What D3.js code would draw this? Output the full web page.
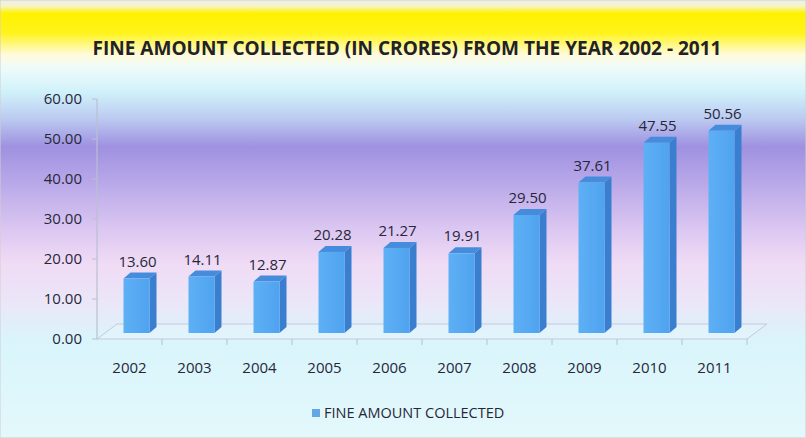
<!DOCTYPE html>
<html>
<head>
<meta charset="utf-8">
<script src="https://cdn.jsdelivr.net/npm/d3@7"></script>
<style>
  html, body { margin: 0; padding: 0; background: #fff; }
  svg { display: block; }
  text { font-family: "Open Sans", "Noto Sans", sans-serif; fill: #27273a; }
</style>
</head>
<body>
<svg id="chart" width="806" height="438"></svg>
<script>
const years = ['2002', '2003', '2004', '2005', '2006', '2007', '2008', '2009', '2010', '2011'];
const fineAmount = [13.60, 14.11, 12.87, 20.28, 21.27, 19.91, 29.50, 37.61, 47.55, 50.56];
const yTicks = [0, 10, 20, 30, 40, 50, 60];
const title = 'FINE AMOUNT COLLECTED (IN CRORES) FROM THE YEAR 2002 - 2011';
const legendLabel = 'FINE AMOUNT COLLECTED';

const W = 806, H = 438;
const svg = d3.select('#chart');
const defs = svg.append('defs');

// background bands, top to bottom
const bg = defs.append('linearGradient').attr('id', 'bg')
  .attr('x1', 0).attr('y1', 0).attr('x2', 0).attr('y2', 1);
[
  [0, '#efefe8'], [0.014, '#f6f4c8'], [0.03, '#fff200'], [0.075, '#fff31a'],
  [0.125, '#fffbdc'], [0.155, '#eefbfb'], [0.21, '#d0f1fa'], [0.27, '#bccbf1'],
  [0.335, '#9f91e0'], [0.40, '#b3a3e7'], [0.52, '#dac6f1'], [0.60, '#f0dbf5'],
  [0.69, '#ebe6f8'], [0.78, '#d9f5fb'], [1, '#e3f8fb']
].forEach(([o, c]) => bg.append('stop').attr('offset', o).attr('stop-color', c));

// front face of the bars: a little lighter on the left
const front = defs.append('linearGradient').attr('id', 'front')
  .attr('x1', 0).attr('y1', 0).attr('x2', 1).attr('y2', 0);
front.append('stop').attr('offset', 0).attr('stop-color', '#5eb0f5');
front.append('stop').attr('offset', 1).attr('stop-color', '#4fa3ef');

svg.append('rect').attr('width', W).attr('height', H).attr('fill', 'url(#bg)')
  .attr('stroke', '#cfcfcf').attr('stroke-width', 1);

// title
svg.append('text')
  .attr('x', 407).attr('y', 55)
  .attr('text-anchor', 'middle')
  .attr('font-weight', 'bold')
  .attr('font-size', 19)
  .attr('textLength', 629)
  .attr('lengthAdjust', 'spacingAndGlyphs')
  .style('fill', '#222226')
  .text(title);

// scales
const x = d3.scaleBand().domain(years).range([97, 747]);
const y = d3.scaleLinear().domain([0, 60]).range([339, 99]);

const depth = { dx: 20, dy: -15 };   // floor depth
const barOff = { dx: 7, dy: -6 };    // where the bar front sits on the floor
const barDepth = { dx: 7, dy: -6 };  // bar thickness
const barW = 26;

// floor
const fl = x.range();
svg.append('path')
  .attr('d', `M${fl[0]},${y(0)} L${fl[0] + depth.dx},${y(0) + depth.dy} L${fl[1] + depth.dx},${y(0) + depth.dy} L${fl[1]},${y(0)} Z`)
  .attr('fill', 'rgba(235,245,252,0.35)')
  .attr('stroke', '#c3cadb').attr('stroke-width', 1);

// y axis
svg.append('line')
  .attr('x1', fl[0]).attr('x2', fl[0]).attr('y1', y(60)).attr('y2', y(0))
  .attr('stroke', '#b9c0d2').attr('stroke-width', 1.2);

const yAxis = svg.append('g');
yAxis.selectAll('line').data(yTicks).join('line')
  .attr('x1', fl[0] - 5).attr('x2', fl[0])
  .attr('y1', (d) => y(d)).attr('y2', (d) => y(d))
  .attr('stroke', '#b9c0d2');
yAxis.selectAll('text').data(yTicks).join('text')
  .attr('x', 82).attr('y', (d) => y(d))
  .attr('dy', '0.36em')
  .attr('text-anchor', 'end')
  .attr('font-size', 15)
  .text((d) => d3.format('.2f')(d));

// x axis ticks + labels
const xAxis = svg.append('g');
xAxis.selectAll('line').data(years).join('line')
  .attr('x1', (d) => x(d) + x.bandwidth())
  .attr('x2', (d) => x(d) + x.bandwidth())
  .attr('y1', y(0)).attr('y2', y(0) + 6)
  .attr('stroke', '#b9c0d2');
xAxis.selectAll('text').data(years).join('text')
  .attr('x', (d) => x(d) + x.bandwidth() / 2)
  .attr('y', 373)
  .attr('text-anchor', 'middle')
  .attr('font-size', 15)
  .text((d) => d);

// bars
const bars = svg.append('g').selectAll('g')
  .data(years.map((yr, i) => ({ yr, v: fineAmount[i] })))
  .join('g');

const fx = (d) => x(d.yr) + x.bandwidth() / 2 - barW / 2 + barOff.dx;
const base = y(0) + barOff.dy;
const barTop = (d) => y(d.v) + barOff.dy;

bars.append('path') // side
  .attr('d', (d) => {
    const x0 = fx(d) + barW;
    return `M${x0},${base} L${x0 + barDepth.dx},${base + barDepth.dy} L${x0 + barDepth.dx},${barTop(d) + barDepth.dy} L${x0},${barTop(d)} Z`;
  })
  .attr('fill', '#3a7ed0');

bars.append('path') // top
  .attr('d', (d) => {
    const x0 = fx(d), t = barTop(d);
    return `M${x0},${t} L${x0 + barDepth.dx},${t + barDepth.dy} L${x0 + barW + barDepth.dx},${t + barDepth.dy} L${x0 + barW},${t} Z`;
  })
  .attr('fill', '#468cdd');

bars.append('rect') // front
  .attr('x', fx)
  .attr('y', barTop)
  .attr('width', barW)
  .attr('height', (d) => base - barTop(d))
  .attr('fill', 'url(#front)');

bars.append('text')
  .attr('x', (d) => fx(d) + barW / 2 + 1)
  .attr('y', (d) => barTop(d) + barDepth.dy - 6)
  .attr('text-anchor', 'middle')
  .attr('font-size', 15)
  .text((d) => d3.format('.2f')(d.v));

// legend
const lg = svg.append('g').attr('transform', 'translate(312,409)');
lg.append('rect').attr('width', 8).attr('height', 8).attr('fill', '#64a7e6');
lg.append('text').attr('x', 12).attr('y', 4).attr('dy', '0.36em')
  .attr('font-size', 14.5)
  .text(legendLabel);
</script>
</body>
</html>
